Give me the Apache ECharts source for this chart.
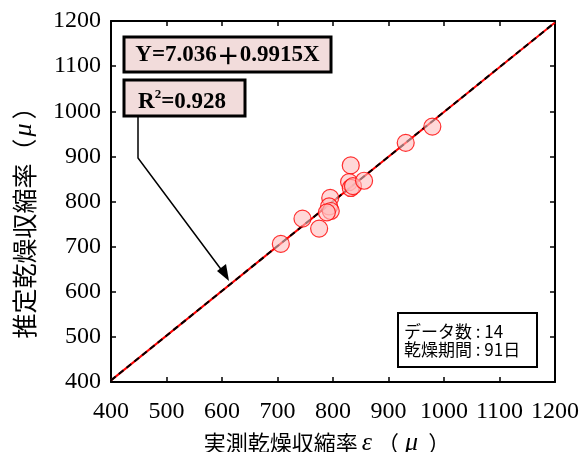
<!DOCTYPE html>
<html><head><meta charset="utf-8">
<script src="https://cdn.jsdelivr.net/npm/echarts@6/dist/echarts.min.js"></script>
<style>html,body{margin:0;padding:0;background:#fff}#c{width:581px;height:452px}</style>
</head><body><div id="c"></div>
<script>
const measured = [706,745,775,795,793,796,789,832,829,832,836,856,931,979];
const estimated = [706,762,740,808,789,779,776,880,843,830,834,846,930,966];
const axisTicks = [400,500,600,700,800,900,1000,1100,1200];
const intercept = 7.036, slope = 0.9915;
const eqLeft = 'Y=7.036', eqPlus = '＋', eqRight = '0.9915X';
const r2Text = '0.928';
const infoLines = ['データ数 : 14','乾燥期間 : 91日'];

const pts = measured.map((m,i)=>[m, estimated[i]]);
const lineX = [axisTicks[0], axisTicks[axisTicks.length-1]];
const fit = lineX.map(x=>[x, intercept + slope*x]);

const serif = '"Liberation Serif","DejaVu Serif",serif';
const sans = '"Noto Sans CJK JP","Noto Sans",sans-serif';
const chart = echarts.init(document.getElementById('c'));
const axBase = {
  type:'value', min:400, max:1200, interval:100,
  axisLine:{show:true, onZero:false, lineStyle:{color:'#000', width:2}},
  axisTick:{show:true, inside:true, length:5, lineStyle:{color:'#000', width:1.5}},
  splitLine:{show:false}
};
const fmt = v => String(v);
chart.setOption({
  animation:false,
  grid:{left:111, right:26, top:21, bottom:70, containLabel:false, outerBoundsMode:'none'},
  xAxis:[
    Object.assign({}, axBase, {position:'bottom',
      axisLabel:{color:'#000', fontFamily:serif, fontSize:24, margin:18, formatter:fmt},
      name:'{a|実測乾燥収縮率}{e|ε}{a|（}{m|μ}{z|）}', nameLocation:'middle', nameGap:48,
      nameTextStyle:{rich:{
        a:{fontFamily:sans, fontSize:22, color:'#000'},
        z:{fontFamily:sans, fontSize:22, color:'#000', padding:[0,12,0,0]},
        e:{fontFamily:serif, fontStyle:'italic', fontSize:26, color:'#000', padding:[0,5,0,4]},
        m:{fontFamily:serif, fontStyle:'italic', fontSize:26, color:'#000', padding:[0,10,0,6]}}}}),
    Object.assign({}, axBase, {position:'top', axisLabel:{show:false}})
  ],
  yAxis:[
    Object.assign({}, axBase, {position:'left',
      axisLabel:{color:'#000', fontFamily:serif, fontSize:24, margin:10, formatter:fmt},
      name:'{a|推定乾燥収縮率（}{m|μ}{z|）}', nameLocation:'middle', nameGap:74, nameRotate:90,
      nameTextStyle:{rich:{
        a:{fontFamily:sans, fontSize:25, color:'#000'},
        z:{fontFamily:sans, fontSize:25, color:'#000', padding:[0,30,0,0]},
        m:{fontFamily:serif, fontStyle:'italic', fontSize:26, color:'#000', padding:[0,4,0,2]}}}}),
    Object.assign({}, axBase, {position:'right', axisLabel:{show:false}})
  ],
  series:[
    {type:'line', data:fit, symbol:'none', lineStyle:{color:'#ff0000', width:2}, z:2},
    {type:'line', data:fit, symbol:'none', lineStyle:{color:'#000', width:2, type:[6,4]}, z:3},
    {type:'scatter', data:pts, symbol:'circle', symbolSize:17,
     itemStyle:{color:'rgba(255,190,190,0.75)', borderColor:'#ff0000', borderWidth:1.2}, z:4}
  ],
  graphic:[
    {type:'rect', shape:{x:124, y:37, width:207, height:35}, style:{fill:'#f2dcdb', stroke:'#000', lineWidth:3}, z:10},
    {type:'text', x:227.5, y:55, style:{text:'{t|'+eqLeft+'}{p|'+eqPlus+'}{t|'+eqRight+'}', align:'center', verticalAlign:'middle',
      rich:{t:{fontFamily:serif, fontWeight:'bold', fontSize:23, fill:'#000'}, p:{fontFamily:sans, fontWeight:'bold', fontSize:23, fill:'#000'}}}, z:11},
    {type:'rect', shape:{x:124, y:80, width:121, height:36}, style:{fill:'#f2dcdb', stroke:'#000', lineWidth:3}, z:10},
    {type:'text', x:182, y:101, style:{text:'{r|R}{s|2}{r|='+r2Text+'}', align:'center', verticalAlign:'middle',
      rich:{r:{fontFamily:serif, fontWeight:'bold', fontSize:23, fill:'#000', verticalAlign:'bottom'}, s:{fontFamily:serif, fontWeight:'bold', fontSize:13, fill:'#000', verticalAlign:'top', padding:[0,0,12,0]}}}, z:11},
    {type:'polyline', shape:{points:[[138,117],[138,158],[223,272]]}, style:{stroke:'#000', lineWidth:1.5, fill:null}, z:10},
    {type:'polygon', shape:{points:[[229,281],[217,271],[226,264]]}, style:{fill:'#000'}, z:10},
    {type:'rect', shape:{x:398, y:313, width:139, height:54}, style:{fill:'#fff', stroke:'#000', lineWidth:2}, z:10},
    {type:'text', x:404, y:332, style:{text:infoLines[0], fontFamily:sans, fontSize:17, fill:'#000', verticalAlign:'middle'}, z:11},
    {type:'text', x:404, y:350, style:{text:infoLines[1], fontFamily:sans, fontSize:17, fill:'#000', verticalAlign:'middle'}, z:11}
  ]
});
</script></body></html>
